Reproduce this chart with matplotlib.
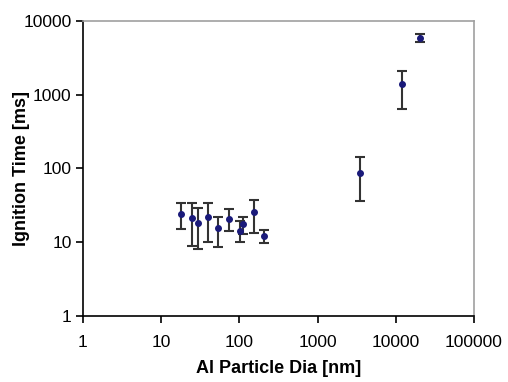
import numpy as np
import matplotlib
matplotlib.use('Agg')
import matplotlib.pyplot as plt
from matplotlib.ticker import FixedLocator, FixedFormatter, NullLocator

# particle diameter [nm], ignition time [ms], error bar bounds
dia = [17.8, 25, 30, 40, 53.5, 75, 101, 110, 154, 205, 3540, 12100, 20400]
t_ign = [24, 21.6, 18.3, 21.8, 15.5, 20.7, 14.3, 17.4, 25.5, 12.3, 88, 1380, 5940]
t_hi = [33.5, 34.5, 29, 33.8, 21.8, 27.8, 19.5, 21.8, 37, 14.7, 144, 2095, 6770]
t_lo = [15.3, 8.9, 8.2, 10, 8.7, 14.3, 10, 13, 13.2, 9.9, 36, 638, 5130]

xticks = [1, 10, 100, 1000, 10000, 100000]
yticks = [1, 10, 100, 1000, 10000]

plt.rcParams['font.family'] = ['Liberation Sans', 'DejaVu Sans']

fig = plt.figure(figsize=(5.08, 3.82), dpi=100)
ax = fig.add_axes([0.163, 0.173, 0.770, 0.772])

t = np.array(t_ign)
yerr = [t - np.array(t_lo), np.array(t_hi) - t]
ax.errorbar(dia, t_ign, yerr=yerr, fmt='o', color='#1a1a7a', ms=4,
            ecolor='#333333', elinewidth=1.5, capsize=3.5, capthick=1.5)

ax.set_xscale('log')
ax.set_yscale('log')
ax.set_xlim(1, 100000)
ax.set_ylim(1, 10000)
ax.xaxis.set_major_locator(FixedLocator(xticks))
ax.xaxis.set_major_formatter(FixedFormatter([str(v) for v in xticks]))
ax.yaxis.set_major_locator(FixedLocator(yticks))
ax.yaxis.set_major_formatter(FixedFormatter([str(v) for v in yticks]))
ax.xaxis.set_minor_locator(NullLocator())
ax.yaxis.set_minor_locator(NullLocator())

ax.tick_params(direction='out', length=5, width=1.2, labelsize=12.5)
ax.tick_params(axis='x', pad=9)
ax.tick_params(axis='y', pad=3)
for side in ['top', 'right']:
    ax.spines[side].set_color('#a0a0a0')
    ax.spines[side].set_linewidth(1.2)
for side in ['left', 'bottom']:
    ax.spines[side].set_color('black')
    ax.spines[side].set_linewidth(1.2)

ax.set_xlabel('Al Particle Dia [nm]', fontsize=13, fontweight='bold', labelpad=7)
ax.set_ylabel('Ignition Time [ms]', fontsize=13, fontweight='bold')
ax.yaxis.set_label_coords(-0.135, 0.5)

fig.savefig('out.png', dpi=100)
